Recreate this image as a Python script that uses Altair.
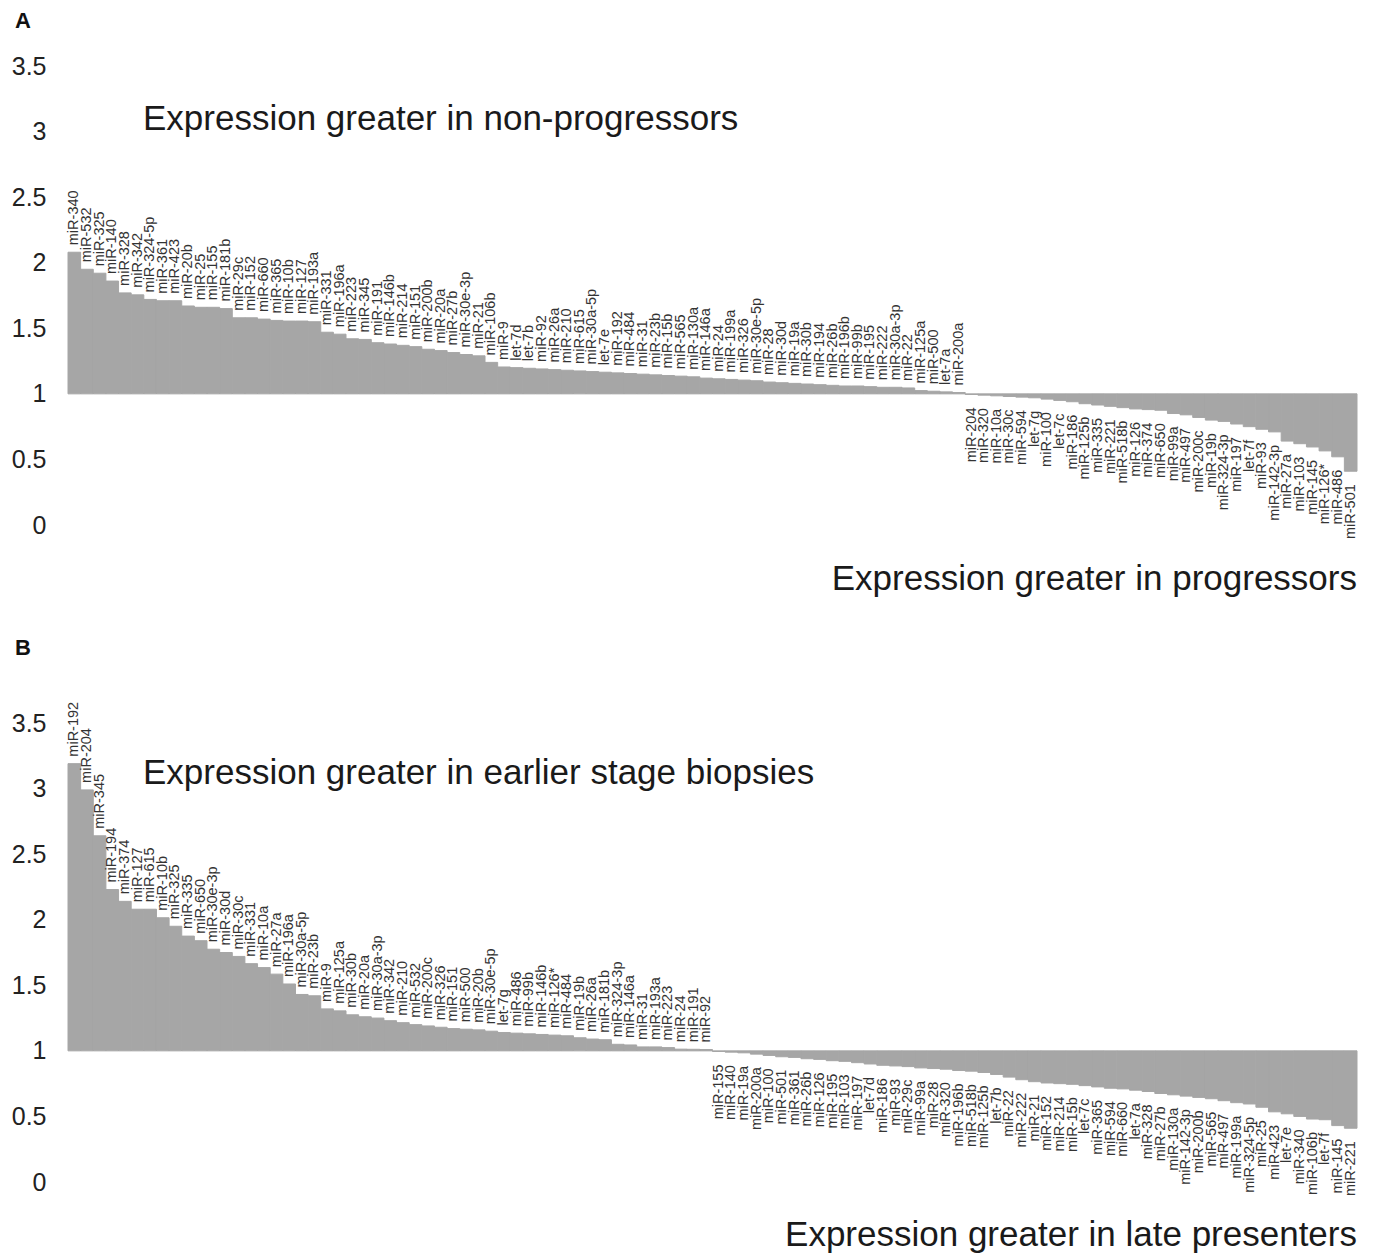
import altair as alt
import pandas as pd

a_names = ["miR-340", "miR-532", "miR-325", "miR-140", "miR-328", "miR-342", "miR-324-5p", "miR-361",
           "miR-423", "miR-20b", "miR-25", "miR-155", "miR-181b", "miR-29c", "miR-152", "miR-660",
           "miR-365", "miR-10b", "miR-127", "miR-193a", "miR-331", "miR-196a", "miR-223", "miR-345",
           "miR-191", "miR-146b", "miR-214", "miR-151", "miR-200b", "miR-20a", "miR-27b", "miR-30e-3p",
           "miR-21", "miR-106b", "miR-9", "let-7d", "let-7b", "miR-92", "miR-26a", "miR-210",
           "miR-615", "miR-30a-5p", "let-7e", "miR-192", "miR-484", "miR-31", "miR-23b", "miR-15b",
           "miR-565", "miR-130a", "miR-146a", "miR-24", "miR-199a", "miR-326", "miR-30e-5p", "miR-28",
           "miR-30d", "miR-19a", "miR-30b", "miR-194", "miR-26b", "miR-196b", "miR-99b", "miR-195",
           "miR-222", "miR-30a-3p", "miR-22", "miR-125a", "miR-500", "let-7a", "miR-200a",
           "miR-204", "miR-320", "miR-10a", "miR-30c", "miR-594", "let-7g", "miR-100", "let-7c",
           "miR-186", "miR-125b", "miR-335", "miR-221", "miR-518b", "miR-126", "miR-374", "miR-650",
           "miR-99a", "miR-497", "miR-200c", "miR-19b", "miR-324-3p", "miR-197", "let-7f", "miR-93",
           "miR-142-3p", "miR-27a", "miR-103", "miR-145", "miR-126*", "miR-486", "miR-501"]
a_values = [2.08, 1.95, 1.92, 1.86, 1.77, 1.755, 1.72, 1.71, 1.71, 1.67, 1.66, 1.66, 1.65, 1.58, 1.58, 1.57,
            1.56, 1.555, 1.555, 1.55, 1.47, 1.455, 1.42, 1.415, 1.39, 1.38, 1.37, 1.36, 1.34, 1.33, 1.315, 1.30,
            1.29, 1.24, 1.205, 1.20, 1.195, 1.19, 1.185, 1.18, 1.175, 1.17, 1.165, 1.16, 1.155, 1.15, 1.145, 1.14,
            1.135, 1.13, 1.12, 1.115, 1.11, 1.105, 1.10, 1.09, 1.085, 1.08, 1.075, 1.07, 1.065, 1.06, 1.06, 1.055,
            1.05, 1.05, 1.045, 1.025, 1.02, 1.015, 1.01,
            0.995, 0.99, 0.985, 0.98, 0.975, 0.97, 0.96, 0.95, 0.94, 0.925, 0.915, 0.905, 0.895, 0.885, 0.88, 0.875,
            0.85, 0.84, 0.82, 0.80, 0.79, 0.77, 0.75, 0.73, 0.71, 0.64, 0.62, 0.595, 0.565, 0.52, 0.41]

b_names = ["miR-192", "miR-204", "miR-345", "miR-194", "miR-374", "miR-127", "miR-615", "miR-10b",
           "miR-325", "miR-335", "miR-650", "miR-30e-3p", "miR-30d", "miR-30c", "miR-331", "miR-10a",
           "miR-27a", "miR-196a", "miR-30a-5p", "miR-23b", "miR-9", "miR-125a", "miR-30b", "miR-20a",
           "miR-30a-3p", "miR-342", "miR-210", "miR-532", "miR-200c", "miR-326", "miR-151", "miR-500",
           "miR-20b", "miR-30e-5p", "let-7g", "miR-486", "miR-99b", "miR-146b", "miR-126*", "miR-484",
           "miR-19b", "miR-26a", "miR-181b", "miR-324-3p", "miR-146a", "miR-31", "miR-193a", "miR-223",
           "miR-24", "miR-191", "miR-92",
           "miR-155", "miR-140", "miR-19a", "miR-200a", "miR-100", "miR-501", "miR-361", "miR-26b",
           "miR-126", "miR-195", "miR-103", "miR-197", "let-7d", "miR-186", "miR-93", "miR-29c",
           "miR-99a", "miR-28", "miR-320", "miR-196b", "miR-518b", "miR-125b", "let-7b", "miR-22",
           "miR-222", "miR-21", "miR-152", "miR-214", "miR-15b", "let-7c", "miR-365", "miR-594",
           "miR-660", "let-7a", "miR-328", "miR-27b", "miR-130a", "miR-142-3p", "miR-200b", "miR-565",
           "miR-497", "miR-199a", "miR-324-5p", "miR-25", "miR-423", "let-7e", "miR-340", "miR-106b",
           "let-7f", "miR-145", "miR-221"]
b_values = [3.19, 2.99, 2.64, 2.23, 2.14, 2.08, 2.08, 2.015, 1.95, 1.875, 1.84, 1.775, 1.75, 1.72, 1.665, 1.635,
            1.585, 1.51, 1.43, 1.42, 1.32, 1.305, 1.275, 1.26, 1.25, 1.23, 1.215, 1.20, 1.19, 1.18, 1.17, 1.165,
            1.16, 1.15, 1.14, 1.135, 1.13, 1.125, 1.12, 1.115, 1.10, 1.09, 1.085, 1.05, 1.045, 1.03, 1.03, 1.025,
            1.013, 1.012, 1.01,
            0.995, 0.99, 0.985, 0.975, 0.965, 0.955, 0.95, 0.94, 0.935, 0.925, 0.92, 0.91, 0.90, 0.89, 0.885, 0.88,
            0.87, 0.865, 0.86, 0.85, 0.845, 0.835, 0.82, 0.80, 0.78, 0.765, 0.755, 0.75, 0.745, 0.735, 0.725, 0.715,
            0.71, 0.70, 0.69, 0.675, 0.665, 0.655, 0.645, 0.635, 0.62, 0.605, 0.595, 0.57, 0.535, 0.52, 0.50, 0.48,
            0.475, 0.43, 0.41]

y_ticks = [0, 0.5, 1, 1.5, 2, 2.5, 3, 3.5]

W, H = 1289, 459
FONT = "Liberation Sans"
BAR = "#a6a6a6"


def panel(names, values, letter, top_text, bottom_text, letter_y, top_y, bottom_y):
    df = pd.DataFrame({"name": names, "value": values})
    df["base"] = 1.0
    x = alt.X("name:N", sort=names, axis=None,
              scale=alt.Scale(paddingInner=0, paddingOuter=0))
    yscale = alt.Scale(domain=[0, 3.5], nice=False, zero=True)
    y = alt.Y("value:Q", scale=yscale, title=None,
              axis=alt.Axis(values=y_ticks, format="~g", domain=False, ticks=False, tickSize=0,
                            grid=False, labelFontSize=25, labelFont=FONT, labelColor="#222",
                            labelPadding=22))
    bars = alt.Chart(df).mark_bar(color=BAR, stroke=BAR, strokeWidth=1).encode(
        x=x, y=y, y2="base:Q")
    up = alt.Chart(df).transform_filter("datum.value >= 1").mark_text(
        angle=270, align="left", baseline="middle", dx=7, fontSize=14.5, font=FONT, color="#333"
    ).encode(x=x, y=y, text="name:N")
    down = alt.Chart(df).transform_filter("datum.value < 1").mark_text(
        angle=270, align="right", baseline="middle", dx=-13, fontSize=14.5, font=FONT, color="#333"
    ).encode(x=x, y=y, text="name:N")
    t_letter = alt.Chart(pd.DataFrame({"t": [letter]})).mark_text(
        align="left", baseline="middle", fontSize=22, fontWeight="bold", font=FONT, color="#111"
    ).encode(x=alt.value(-53), y=alt.value(letter_y), text="t:N")
    t_top = alt.Chart(pd.DataFrame({"t": [top_text]})).mark_text(
        align="left", baseline="middle", fontSize=35, font=FONT, color="#1a1a1a"
    ).encode(x=alt.value(75), y=alt.value(top_y), text="t:N")
    t_bot = alt.Chart(pd.DataFrame({"t": [bottom_text]})).mark_text(
        align="right", baseline="middle", fontSize=35, font=FONT, color="#1a1a1a"
    ).encode(x=alt.value(W), y=alt.value(bottom_y), text="t:N")
    return alt.layer(bars, up, down, t_letter, t_top, t_bot).properties(width=W, height=H)


pA = panel(a_names, a_values, "A", "Expression greater in non-progressors",
           "Expression greater in progressors", -45, 53, 513)
pB = panel(b_names, b_values, "B", "Expression greater in earlier stage biopsies",
           "Expression greater in late presenters", -75, 50, 512)

chart = alt.vconcat(pA, pB, spacing=40).properties(
    padding={"left": 3, "top": 2, "right": 0, "bottom": 0}
).configure_view(stroke=None)

chart.save("out.html", embed_options={"renderer": "svg", "actions": False})
